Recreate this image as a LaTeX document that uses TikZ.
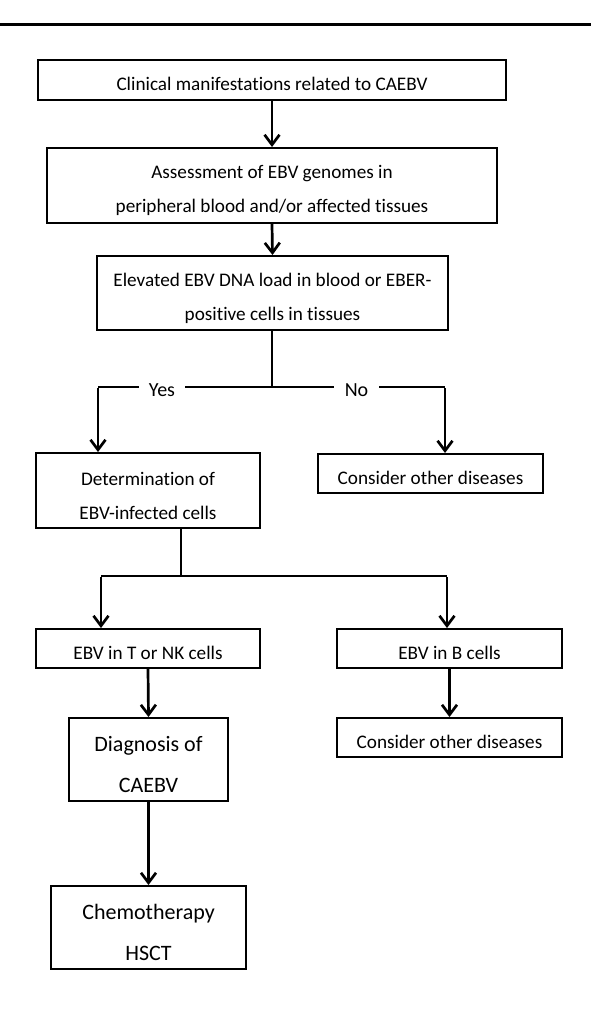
\documentclass[tikz,border=0pt]{standalone}
\usepackage{fontspec}
\setmainfont{Carlito}[Ligatures=NoCommon]
\usetikzlibrary{arrows.meta}
\begin{document}
\begin{tikzpicture}[x=1pt,y=-1pt,
  box/.style={draw, line width=2pt, inner sep=0pt},
  txt/.style={inner sep=0pt, align=center, font=\fontsize{19.2}{34}\selectfont},
  bigtxt/.style={txt, font=\fontsize{22}{41}\selectfont},
  conn/.style={line width=2.7pt},
  arr/.style={conn, -{Straight Barb[length=10pt,width=15pt]}},
  lbl/.style={fill=white, inner sep=0pt, minimum width=46pt, minimum height=20pt,
    font=\fontsize{20}{22}\selectfont}]
\useasboundingbox (0,0) rectangle (591,1012);
\draw[line width=3pt] (0,24) -- (591,24);

\node[box, minimum width=468pt, minimum height=40pt] (b1) at (272,80) {};
\node[txt] (b1t) at ([yshift=-4pt]b1.center) {Clinical manifestations related to CAEBV};
\node[box, minimum width=450pt, minimum height=75pt] (b2) at (272,185.5) {};
\node[txt] (b2t) at ([yshift=-5pt]b2.center) {Assessment of EBV genomes in\\peripheral blood and/or affected tissues};
\node[box, minimum width=351pt, minimum height=74pt] (b3) at (272.5,293) {};
\node[txt] (b3t) at ([yshift=-5pt]b3.center) {Elevated EBV DNA load in blood or EBER-\\positive cells in tissues};
\node[box, minimum width=224pt, minimum height=75pt] (det) at (148,490.5) {};
\node[txt] (dett) at ([yshift=-5pt]det.center) {Determination of\\EBV-infected cells};
\node[box, minimum width=225pt, minimum height=39pt] (cod1) at (430.5,473.5) {};
\node[txt] (cod1t) at ([yshift=-4pt]cod1.center) {Consider other diseases};
\node[box, minimum width=224pt, minimum height=39pt] (tnk) at (148,648.5) {};
\node[txt] (tnkt) at ([yshift=-4pt]tnk.center) {EBV in T or NK cells};
\node[box, minimum width=225pt, minimum height=39pt] (bc) at (449.5,648.5) {};
\node[txt] (bct) at ([yshift=-4pt]bc.center) {EBV in B cells};
\node[box, minimum width=159pt, minimum height=83pt] (diag) at (148.5,759.5) {};
\node[bigtxt] (diagt) at ([yshift=-5pt]diag.center) {Diagnosis of\\CAEBV};
\node[box, minimum width=225pt, minimum height=39pt] (cod2) at (449.5,737.5) {};
\node[txt] (cod2t) at ([yshift=-4pt]cod2.center) {Consider other diseases};
\node[box, minimum width=195pt, minimum height=83pt] (chemo) at (148.5,927.5) {};
\node[bigtxt] (chemot) at ([yshift=-5pt]chemo.center) {Chemotherapy\\HSCT};

\draw[arr] (b1.south) -- (b2.north);
\draw[arr] (b2.south) -- (b3.north);

% Yes / No branch
\coordinate (j1) at (272,387);
\coordinate (yl) at (98,387);
\coordinate (nr) at (445,387);
\draw[conn] (b3.south -| j1) -- (j1);
\draw[conn] (yl) -- (nr);
\draw[arr] ([yshift=-1.35pt]yl) -- (det.north -| yl);
\draw[arr] ([yshift=-1.35pt]nr) -- (cod1.north -| nr);
\node[lbl] (yes) at (162,390) {Yes};
\node[lbl, minimum width=45pt] (no) at (356.5,390) {No};

% cell type branch
\coordinate (j2) at (181,576);
\coordinate (tl) at (101,576);
\coordinate (br) at (447,576);
\draw[conn] (det.south -| j2) -- (j2);
\draw[conn] (tl) -- (br);
\draw[arr] ([yshift=-1.35pt]tl) -- (tnk.north -| tl);
\draw[arr] ([yshift=-1.35pt]br) -- (bc.north -| br);

\draw[arr] (tnk.south) -- (diag.north);
\draw[arr] (bc.south) -- (cod2.north);
\draw[arr] (diag.south) -- (chemo.north);
\end{tikzpicture}
\end{document}
